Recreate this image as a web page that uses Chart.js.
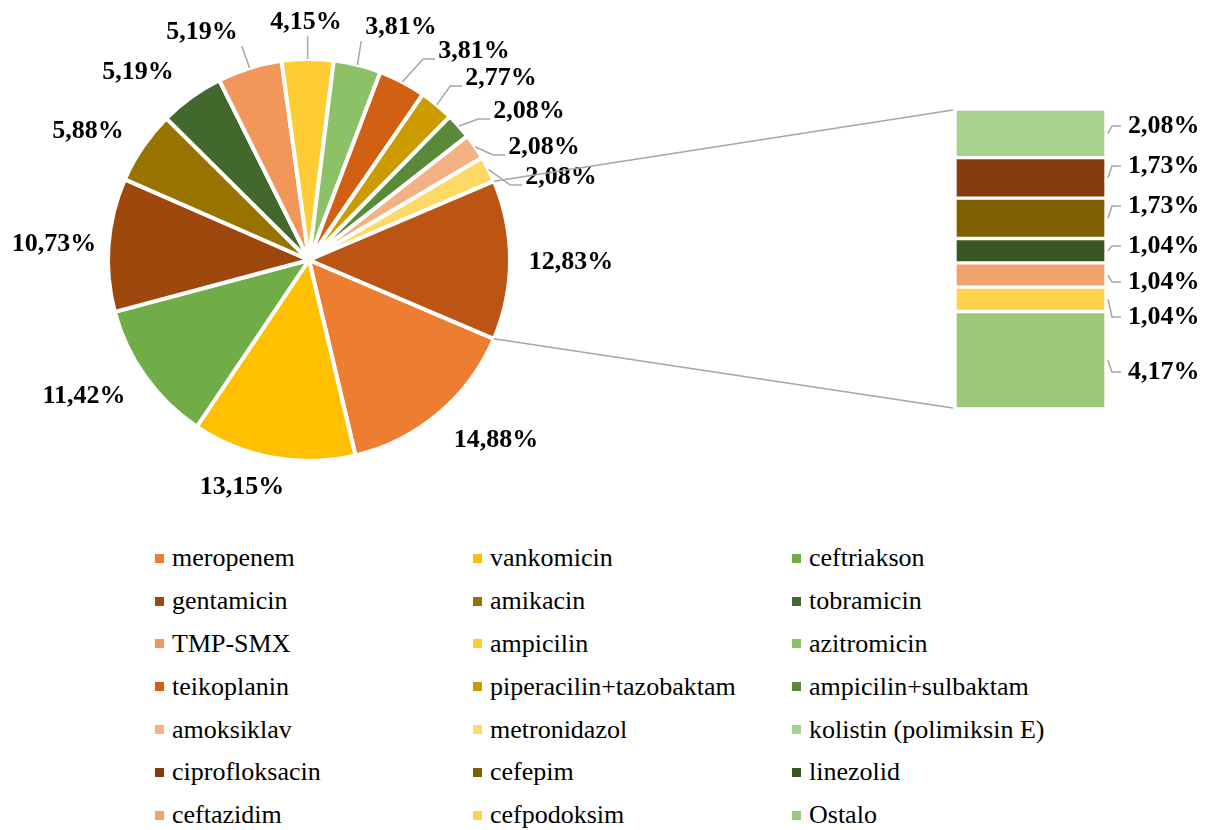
<!DOCTYPE html>
<html>
<head>
<meta charset="utf-8">
<script src="https://cdn.jsdelivr.net/npm/chart.js@4"></script>
<style>
  body { margin: 0; background: #fff; }
  #wrap { position: relative; width: 1210px; height: 830px; font-family: "Liberation Serif", "Times New Roman", serif; }
  #wrap canvas { position: absolute; left: 0; top: 0; }
  #legend { position: absolute; left: 155px; top: 537px; display: grid; grid-template-columns: 318px 319px 300px; grid-auto-rows: 42.8px; }
  .item { display: flex; align-items: center; font-size: 26px; color: #000; white-space: nowrap; }
  .box { width: 9px; height: 9px; margin-right: 8px; flex: none; }
</style>
</head>
<body>
<div id="wrap">
  <canvas id="pieChart" width="1210" height="520"></canvas>
  <canvas id="barChart" width="1210" height="520"></canvas>
  <div id="legend"></div>
</div>
<script>
"use strict";

// pie slices (clockwise, starting below the "other" wedge)
const pieCategories = ["meropenem", "vankomicin", "ceftriakson", "gentamicin", "amikacin", "tobramicin",
  "TMP-SMX", "ampicilin", "azitromicin", "teikoplanin", "piperacilin+tazobaktam", "ampicilin+sulbaktam",
  "amoksiklav", "metronidazol"];
const pieValues = [14.88, 13.15, 11.42, 10.73, 5.88, 5.19, 5.19, 4.15, 3.81, 3.81, 2.77, 2.08, 2.08, 2.08];
const pieColors = ["#ED7D31", "#FFC000", "#70AD47", "#9E480E", "#997300", "#43682B", "#F1975A", "#FFCD33",
  "#8CC168", "#D26012", "#CC9B00", "#5A8A39", "#F4B183", "#FFD966"];
const otherValue = 12.83;
const otherColor = "#BC5513";

// stacked bar (top to bottom)
const barCategories = ["kolistin (polimiksin E)", "ciprofloksacin", "cefepim", "linezolid", "ceftazidim",
  "cefpodoksim", "Ostalo"];
const barValues = [2.08, 1.73, 1.73, 1.04, 1.04, 1.04, 4.17];
const barColors = ["#A9D18E", "#843C0C", "#7F6000", "#385723", "#F0A36B", "#FFD24C", "#9DC87A"];

// label placement (offset from pie centre), last entry is the "other" wedge
const pieLabelAt = [[187, 180], [-67, 227], [-225, 136], [-255, -16], [-221, -129], [-171, -188],
  [-107, -228], [-3, -238], [92, -233], [165, -209], [192, -182], [220, -149], [235, -113], [252, -83], [262, 2]];
const pieLeader = [6, 7, 8, 9, 10, 11, 12, 13];
const barLabelY = [126, 166, 206, 246, 282, 317, 372];

const labelFont = "bold 26px 'Liberation Serif', 'Times New Roman', serif";
const fmt = v => v.toFixed(2).replace(".", ",") + "%";

const pieTotal = pieValues.reduce((a, b) => a + b, 0) + otherValue;

const pieLabelsPlugin = {
  id: "pieLabels",
  afterDatasetsDraw(chart) {
    const ctx = chart.ctx;
    const arcs = chart.getDatasetMeta(0).data;
    const values = chart.data.datasets[0].data;
    ctx.save();
    ctx.font = labelFont;
    ctx.textAlign = "center";
    ctx.textBaseline = "middle";
    arcs.forEach((arc, i) => {
      const cx = arc.x + pieLabelAt[i][0];
      const cy = arc.y + pieLabelAt[i][1];
      const text = fmt(values[i]);
      if (pieLeader.includes(i)) {
        const mid = (arc.startAngle + arc.endAngle) / 2;
        const ax = arc.x + Math.cos(mid) * arc.outerRadius;
        const ay = arc.y + Math.sin(mid) * arc.outerRadius;
        const w = ctx.measureText(text).width;
        const left = cx - w / 2, right = cx + w / 2, bottom = cy + 10;
        ctx.strokeStyle = "#A6A6A6";
        ctx.lineWidth = 1.5;
        ctx.beginPath();
        ctx.moveTo(ax, ay);
        if (ax < left - 8) {
          const ex = left - 3, ey = bottom - 2;
          ctx.lineTo(Math.max(ex - 12, ax), ey);
          ctx.lineTo(ex, ey);
        } else {
          ctx.lineTo(Math.min(Math.max(ax, left - 4), right + 4), bottom + 4);
        }
        ctx.stroke();
      }
      ctx.fillStyle = "#000";
      ctx.fillText(text, cx, cy);
    });
    ctx.restore();
  }
};

const pieChart = new Chart(document.getElementById("pieChart"), {
  type: "pie",
  data: {
    labels: [...pieCategories, "other"],
    datasets: [{
      data: [...pieValues, otherValue],
      backgroundColor: [...pieColors, otherColor],
      borderColor: "#ffffff",
      borderWidth: 4
    }]
  },
  options: {
    responsive: false,
    animation: false,
    radius: 201,
    rotation: 90 + otherValue / pieTotal * 180,
    layout: { padding: { left: 99, right: 691, top: 50, bottom: 50 } },
    plugins: { legend: { display: false }, tooltip: { enabled: false } }
  },
  plugins: [pieLabelsPlugin]
});

const barLabelsPlugin = {
  id: "barLabels",
  afterDatasetsDraw(chart) {
    const ctx = chart.ctx;
    const area = chart.chartArea;
    ctx.save();
    // connector lines from the "other" wedge to the bar
    const arc = pieChart.getDatasetMeta(0).data[pieValues.length];
    const r = arc.outerRadius;
    ctx.strokeStyle = "#A6A6A6";
    ctx.lineWidth = 1.5;
    ctx.beginPath();
    ctx.moveTo(arc.x + Math.cos(arc.startAngle) * r, arc.y + Math.sin(arc.startAngle) * r);
    ctx.lineTo(area.left - 2, area.top + 1);
    ctx.moveTo(arc.x + Math.cos(arc.endAngle) * r, arc.y + Math.sin(arc.endAngle) * r);
    ctx.lineTo(area.left - 2, area.bottom - 1);
    ctx.stroke();

    ctx.font = labelFont;
    ctx.textAlign = "left";
    ctx.textBaseline = "middle";
    const n = barCategories.length;
    barCategories.forEach((c, i) => {
      const bar = chart.getDatasetMeta(n - 1 - i).data[0];
      const ax = bar.x + bar.width / 2 + 2;
      const ay = (bar.y + bar.base) / 2;
      const ly = barLabelY[i];
      const lx = area.right + 22;
      ctx.beginPath();
      ctx.moveTo(ax, ay);
      ctx.lineTo(ax + 4, ly);
      ctx.lineTo(lx - 7, ly);
      ctx.stroke();
      ctx.fillStyle = "#000";
      ctx.fillText(fmt(barValues[i]), lx, ly);
    });
    ctx.restore();
  }
};

new Chart(document.getElementById("barChart"), {
  type: "bar",
  data: {
    labels: [""],
    datasets: barCategories.map((c, i) => ({
      label: c,
      data: [barValues[i]],
      backgroundColor: barColors[i],
      borderColor: "#ffffff",
      borderWidth: 2,
      borderSkipped: false,
      barPercentage: 1,
      categoryPercentage: 1
    })).reverse()
  },
  options: {
    responsive: false,
    animation: false,
    layout: { padding: { left: 955, right: 104, top: 109, bottom: 111 } },
    scales: {
      x: { stacked: true, display: false },
      y: { stacked: true, display: false, min: 0, max: barValues.reduce((a, b) => a + b, 0) }
    },
    plugins: { legend: { display: false }, tooltip: { enabled: false } }
  },
  plugins: [barLabelsPlugin]
});

// legend: pie categories then bar categories, three columns
const legend = document.getElementById("legend");
const legendNames = [...pieCategories, ...barCategories];
const legendColors = [...pieColors, ...barColors];
legendNames.forEach((name, i) => {
  const item = document.createElement("div");
  item.className = "item";
  item.innerHTML = `<span class="box" style="background:${legendColors[i]}"></span><span>${name}</span>`;
  legend.appendChild(item);
});
</script>
</body>
</html>
